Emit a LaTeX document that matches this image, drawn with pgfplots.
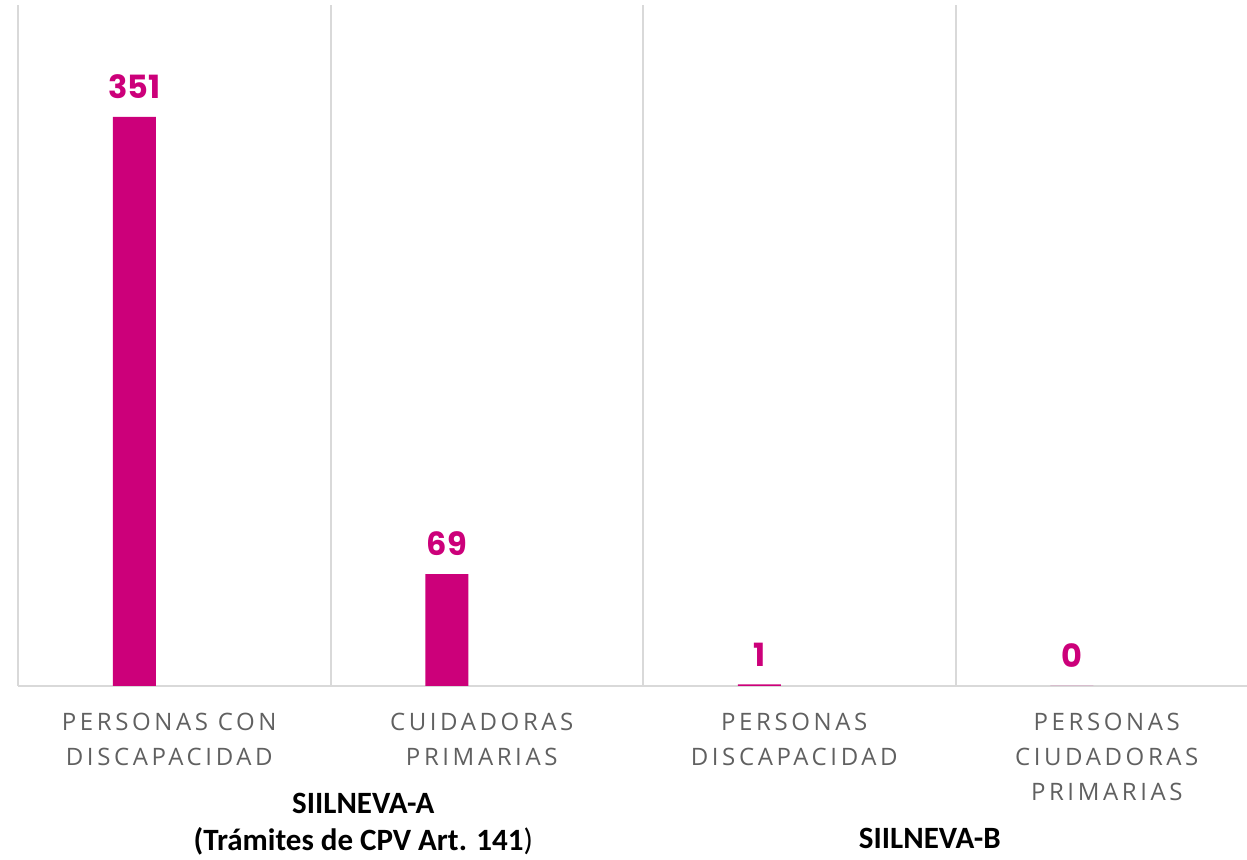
\documentclass[border=0pt]{standalone}
\usepackage{fontspec}
\setmainfont{Carlito}
\newfontfamily\tickfont[LetterSpace=15]{Open Sans}
\newfontfamily\valfont{Poppins}
\usepackage{pgfplots}
\pgfplotsset{compat=1.18}
\definecolor{barmag}{HTML}{CC007A}
\definecolor{sepgray}{HTML}{D9D9D9}
\definecolor{tickgray}{HTML}{606060}

\begin{document}
\begin{tikzpicture}
\begin{axis}[
    scale only axis,
    width=625pt,
    height=340.5pt,
    xmin=-0.5, xmax=3.5,
    ymin=0, ymax=420,
    axis x line*=bottom,
    axis y line*=left,
    axis line style={draw=sepgray, line width=1pt, -},
    ytick=\empty,
    xtick={0,1,2,3},
    xticklabels={PERSONAS CON\\DISCAPACIDAD, CUIDADORAS\\PRIMARIAS, PERSONAS\\DISCAPACIDAD, PERSONAS\\CIUDADORAS\\PRIMARIAS},
    major tick length=0pt,
    minor tick length=0pt,
    minor xtick={0.5,1.5,2.5},
    minor x grid style={draw=sepgray, line width=1pt},
    xminorgrids,
    xticklabel style={font=\tickfont\fontsize{12}{17.5}\selectfont, text=tickgray,
        align=center, anchor=north, yshift=-10pt, xshift=-2.5pt},
    ybar,
    bar width=0.1376,
    /pgf/number format/assume math mode=true,
    nodes near coords,
    every node near coord/.append style={font=\valfont\bfseries\fontsize{16}{16}\selectfont,
        text=barmag, yshift=5.5pt},
    clip=false,
]
\addplot[fill=barmag, draw=none] coordinates {
    (-0.128, 351)
    (0.872, 69)
    (1.872, 1)
    (2.872, 0)
};
\node[font=\bfseries\fontsize{15.5}{18.5}\selectfont, align=center, anchor=center]
    at (axis cs:0.605,0) [yshift=-69.25pt] {SIILNEVA-A\\(Trámites de CPV Art. 141\textmd{)}};
\node[font=\bfseries\fontsize{15.5}{18.5}\selectfont, anchor=center]
    at (axis cs:2.418,0) [yshift=-76pt] {SIILNEVA-B};
\end{axis}
\pgfresetboundingbox
\path[use as bounding box] (-9pt,-87pt) rectangle (614.5pt,343pt);
\end{tikzpicture}
\end{document}
